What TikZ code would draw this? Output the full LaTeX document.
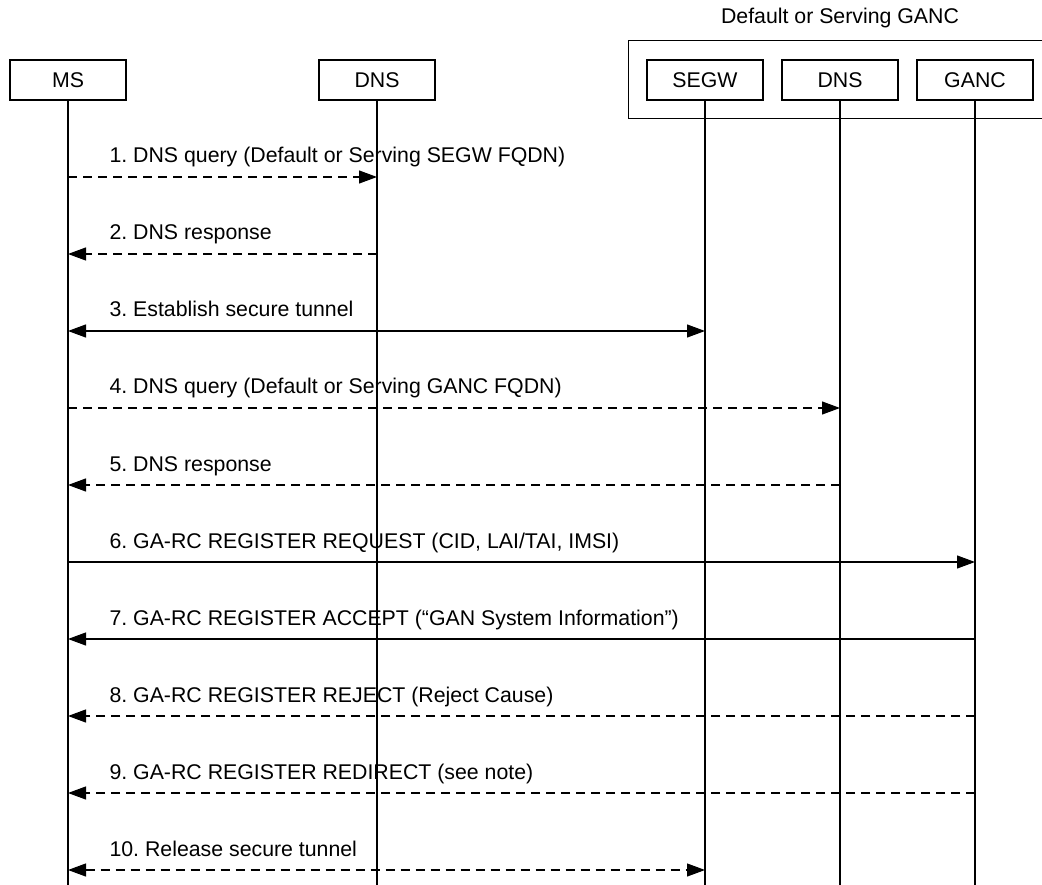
\documentclass[tikz,border=0pt]{standalone}
\usepackage{fontspec}
\setmainfont{Liberation Sans}
\usetikzlibrary{arrows.meta}
\frenchspacing

\begin{document}
\begin{tikzpicture}[x=1pt,y=-1pt,line width=1.1pt,
		>={Triangle[length=18pt,width=13pt]},
		box/.style={draw,minimum width=116pt,minimum height=40pt,inner sep=0pt,font=\fontsize{21.3}{25}\selectfont},
		lbl/.style={anchor=base west,inner sep=0pt,xshift=41pt,yshift=14pt,font=\fontsize{21.3}{25}\selectfont},
		dmsg/.style={dash pattern=on 9pt off 6pt}]
		\useasboundingbox (0,0) rectangle (1042,885);
		% Gruppe
		\node[draw,anchor=north west,minimum width=440pt,minimum height=78pt] (grp) at (628,40) {};
		\node[font=\fontsize{21.3}{25}\selectfont] (titel) at (840,18) {Default or Serving GANC};
		% Kaesten
		\node[box] (ms) at (68,80) {MS};
		\node[box] (dnsa) at (377,80) {DNS};
		\node[box] (segw) at (705,80) {SEGW};
		\node[box] (dnsb) at (840,80) {DNS};
		\node[box] (ganc) at (975,80) {GANC};
		% Lebenslinien
		\coordinate (ende) at (0,885);
		\foreach \n in {ms,dnsa,segw,dnsb,ganc} \draw (\n.south) -- (\n |- ende);
		% Zeilen
		\foreach \i in {1,...,10} \coordinate (r\i) at (0,100+77*\i);
		% Nachrichten
		\draw[dmsg,->] (ms |- r1) -- (dnsa |- r1) node[pos=0,lbl] (t1) {1. DNS query (Default or Serving SEGW FQDN)};
		\draw[dmsg,->] (dnsa |- r2) -- (ms |- r2) node[pos=1,lbl] (t2) {2. DNS response};
		\draw[<->] (ms |- r3) -- (segw |- r3) node[pos=0,lbl] (t3) {3. Establish secure tunnel};
		\draw[dmsg,->] (ms |- r4) -- (dnsb |- r4) node[pos=0,lbl] (t4) {4. DNS query (Default or Serving GANC FQDN)};
		\draw[dmsg,->] (dnsb |- r5) -- (ms |- r5) node[pos=1,lbl] (t5) {5. DNS response};
		\draw[->] (ms |- r6) -- (ganc |- r6) node[pos=0,lbl] (t6) {6. GA-RC REGISTER REQUEST (CID, LAI/TAI, IMSI)};
		\draw[->] (ganc |- r7) -- (ms |- r7) node[pos=1,lbl] (t7) {7. GA-RC REGISTER ACCEPT (“GAN System Information”)};
		\draw[dmsg,->] (ganc |- r8) -- (ms |- r8) node[pos=1,lbl] (t8) {8. GA-RC REGISTER REJECT (Reject Cause)};
		\draw[dmsg,->] (ganc |- r9) -- (ms |- r9) node[pos=1,lbl] (t9) {9. GA-RC REGISTER REDIRECT (see note)};
		\draw[dmsg,<->] (ms |- r10) -- (segw |- r10) node[pos=0,lbl] (t10) {10. Release secure tunnel};
	\end{tikzpicture}
\end{document}
